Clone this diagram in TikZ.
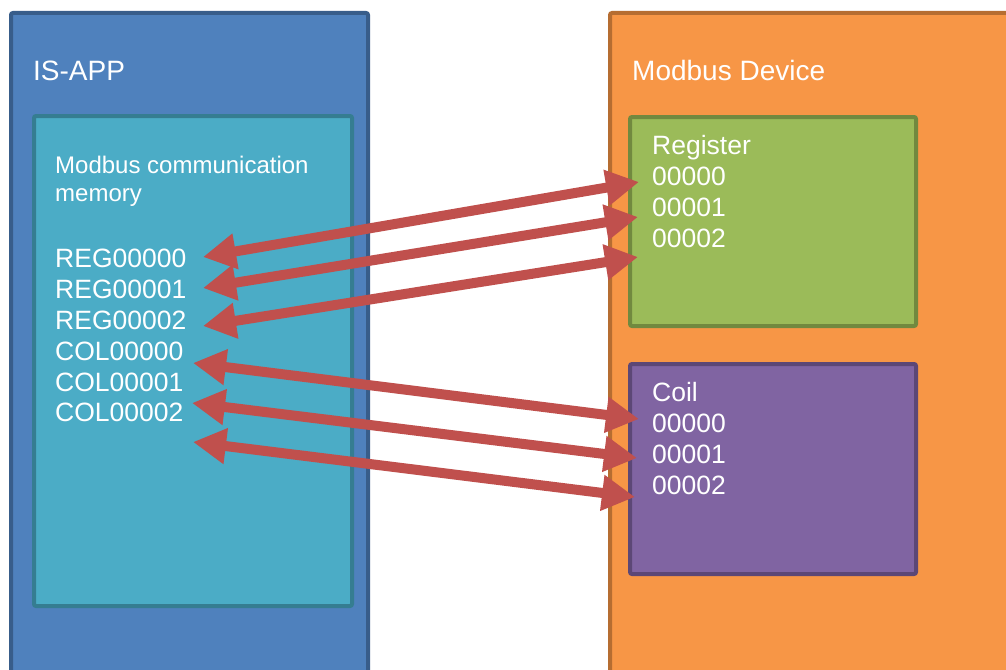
\documentclass[tikz,border=0pt]{standalone}
\usepackage{fontspec}
\setmainfont{Liberation Sans}
\usetikzlibrary{arrows.meta}
\definecolor{blueF}{HTML}{4F81BD}
\definecolor{blueD}{HTML}{385D8A}
\definecolor{tealF}{HTML}{4BACC6}
\definecolor{tealD}{HTML}{357D91}
\definecolor{orgF}{HTML}{F79646}
\definecolor{orgD}{HTML}{B66D31}
\definecolor{grnF}{HTML}{9BBB59}
\definecolor{grnD}{HTML}{71893F}
\definecolor{purF}{HTML}{8064A2}
\definecolor{purD}{HTML}{5C4776}
\definecolor{arrC}{HTML}{C0504D}
\begin{document}
\begin{tikzpicture}[x=1pt,y=-1pt,
  box/.style={line width=4pt, rounded corners=2pt},
  ttl/.style={text=white, anchor=base west, inner sep=0pt, font=\fontsize{28}{32}\selectfont},
  lbl/.style={text=white, anchor=base west, inner sep=0pt, font=\fontsize{26.5}{30}\selectfont},
  sml/.style={text=white, anchor=base west, inner sep=0pt, font=\fontsize{24}{28}\selectfont},
  dbl/.style={draw=arrC, line width=10pt,
    {Triangle[length=33pt,width=34pt]}-{Triangle[length=33pt,width=34pt]}}]
\useasboundingbox (0,0) rectangle (1006,669);
\clip (0,0) rectangle (1006,669);
\fill[white] (0,0) rectangle (1006,669);
% containers
\draw[box, fill=blueF, draw=blueD] (11,13) rectangle (368,700);
\draw[box, fill=tealF, draw=tealD] (34,116) rectangle (352,606);
\draw[box, fill=orgF, draw=orgD] (610,13) rectangle (1030,700);
\draw[box, fill=grnF, draw=grnD] (630,117) rectangle (916,326);
\draw[box, fill=purF, draw=purD] (630,364) rectangle (916,574);
% texts
\node[ttl] (isapp) at (33,80) {IS-APP};
\node[ttl] (dev) at (632,80) {Modbus Device};
\node[sml] (mcm1) at (55,173) {Modbus communication};
\node[sml] (mcm2) at (55,201) {memory};
\node[lbl] (reg0) at (55,267) {REG00000};
\node[lbl] (reg1) at (55,298) {REG00001};
\node[lbl] (reg2) at (55,329) {REG00002};
\node[lbl] (col0) at (55,360) {COL00000};
\node[lbl] (col1) at (55,391) {COL00001};
\node[lbl] (col2) at (55,421) {COL00002};
\node[lbl] (regt) at (652,154) {Register};
\node[lbl] (r0) at (652,185) {00000};
\node[lbl] (r1) at (652,216) {00001};
\node[lbl] (r2) at (652,247) {00002};
\node[lbl] (coilt) at (652,401) {Coil};
\node[lbl] (c0) at (652,432) {00000};
\node[lbl] (c1) at (652,463) {00001};
\node[lbl] (c2) at (652,494) {00002};
% arrow end points
\coordinate (a1l) at (203,257); \coordinate (a1r) at (639,182);
\coordinate (a2l) at (203,288); \coordinate (a2r) at (638,217);
\coordinate (a3l) at (203,326); \coordinate (a3r) at (638,257);
\coordinate (a4l) at (193,363); \coordinate (a4r) at (639,419);
\coordinate (a5l) at (192,403); \coordinate (a5r) at (637,458);
\coordinate (a6l) at (193,442); \coordinate (a6r) at (635,497);
\draw[dbl] (a1l) -- (a1r);
\draw[dbl] (a2l) -- (a2r);
\draw[dbl] (a3l) -- (a3r);
\draw[dbl] (a4l) -- (a4r);
\draw[dbl] (a5l) -- (a5r);
\draw[dbl] (a6l) -- (a6r);
\end{tikzpicture}
\end{document}
